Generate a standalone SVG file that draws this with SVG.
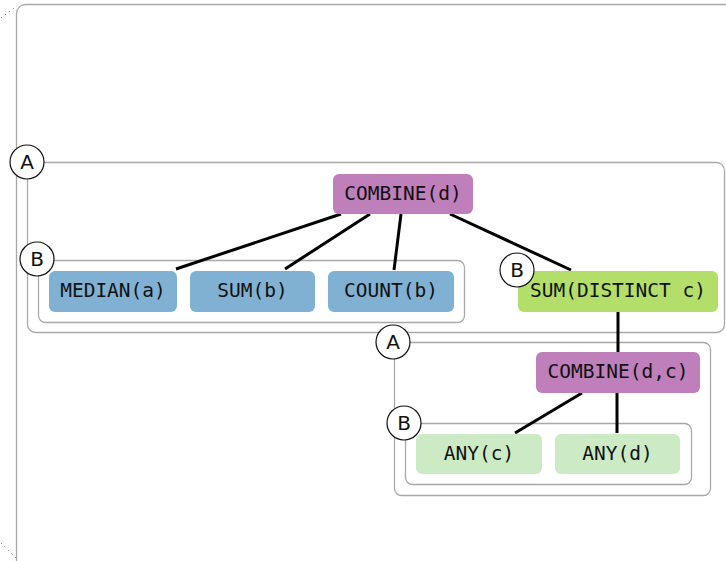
<svg xmlns="http://www.w3.org/2000/svg" width="726" height="561" viewBox="0 0 726 561">
<style>
.grp{fill:none;stroke:#a8a8a8;stroke-width:1.3}
.lbl{fill:#fff;stroke:#111;stroke-width:1.2}
.lt{font-family:"DejaVu Sans",sans-serif;font-size:20px;fill:#111;text-anchor:middle;dominant-baseline:central}
.nt{font-family:"DejaVu Sans Mono",monospace;font-size:19.5px;fill:#111;text-anchor:middle;dominant-baseline:central}
.edge{stroke:#000;stroke-width:3;fill:none}
</style>
<rect width="726" height="561" fill="#fff"/>
<g id="outer">
<rect class="grp" x="16.5" y="4.5" width="730" height="570" rx="9"/>
<path d="M1 18 L14 8" stroke="#666" stroke-width="1" stroke-dasharray="1 4" fill="none"/>
<path d="M1 543 L16 558" stroke="#666" stroke-width="1" stroke-dasharray="1 4" fill="none"/>
</g>
<g id="groups">
<rect class="grp" x="27.5" y="162.5" width="697" height="170" rx="8"/>
<rect class="grp" x="38.5" y="260.5" width="426" height="62" rx="7"/>
<rect class="grp" x="394.5" y="342.5" width="316" height="153" rx="7"/>
<rect class="grp" x="405.5" y="423.5" width="286" height="61" rx="7"/>
</g>
<g id="connectors">
<line class="edge" x1="341" y1="214" x2="176" y2="269"/>
<line class="edge" x1="370" y1="214" x2="285" y2="269"/>
<line class="edge" x1="401" y1="214" x2="394" y2="270"/>
<line class="edge" x1="450" y1="214" x2="571" y2="270"/>
<line class="edge" x1="618" y1="312" x2="618" y2="352"/>
<line class="edge" x1="582" y1="393" x2="515" y2="433"/>
<line class="edge" x1="617" y1="393" x2="617" y2="433"/>
</g>
<g id="combine_d"><rect x="333" y="174" width="140" height="40" rx="6" fill="#be7fbb"/><text class="nt" x="403" y="193">COMBINE(d)</text></g>
<g id="median_a"><rect x="49" y="271" width="128" height="41" rx="6" fill="#80b1d3"/><text class="nt" x="113" y="290.5">MEDIAN(a)</text></g>
<g id="sum_b"><rect x="190" y="271" width="125" height="41" rx="6" fill="#80b1d3"/><text class="nt" x="252.5" y="290.5">SUM(b)</text></g>
<g id="count_b"><rect x="328" y="271" width="126" height="41" rx="6" fill="#80b1d3"/><text class="nt" x="391" y="290.5">COUNT(b)</text></g>
<g id="sum_distinct_c"><rect x="518" y="271" width="200" height="41" rx="6" fill="#b3de69"/><text class="nt" x="618" y="290.5">SUM(DISTINCT c)</text></g>
<g id="combine_dc"><rect x="536" y="352" width="164" height="41" rx="6" fill="#be7fbb"/><text class="nt" x="618" y="371.5">COMBINE(d,c)</text></g>
<g id="any_c"><rect x="416" y="434" width="126" height="40" rx="6" fill="#ccebc5"/><text class="nt" x="479" y="453">ANY(c)</text></g>
<g id="any_d"><rect x="555" y="434" width="125" height="40" rx="6" fill="#ccebc5"/><text class="nt" x="617.5" y="453">ANY(d)</text></g>
<g id="labels">
<circle class="lbl" cx="27" cy="162" r="17"/><text class="lt" x="27" y="162">A</text>
<circle class="lbl" cx="37" cy="259" r="17"/><text class="lt" x="37" y="259">B</text>
<circle class="lbl" cx="517" cy="270" r="17"/><text class="lt" x="517" y="270">B</text>
<circle class="lbl" cx="393" cy="342" r="17"/><text class="lt" x="393" y="342">A</text>
<circle class="lbl" cx="404" cy="423" r="17"/><text class="lt" x="404" y="423">B</text>
</g>
</svg>
